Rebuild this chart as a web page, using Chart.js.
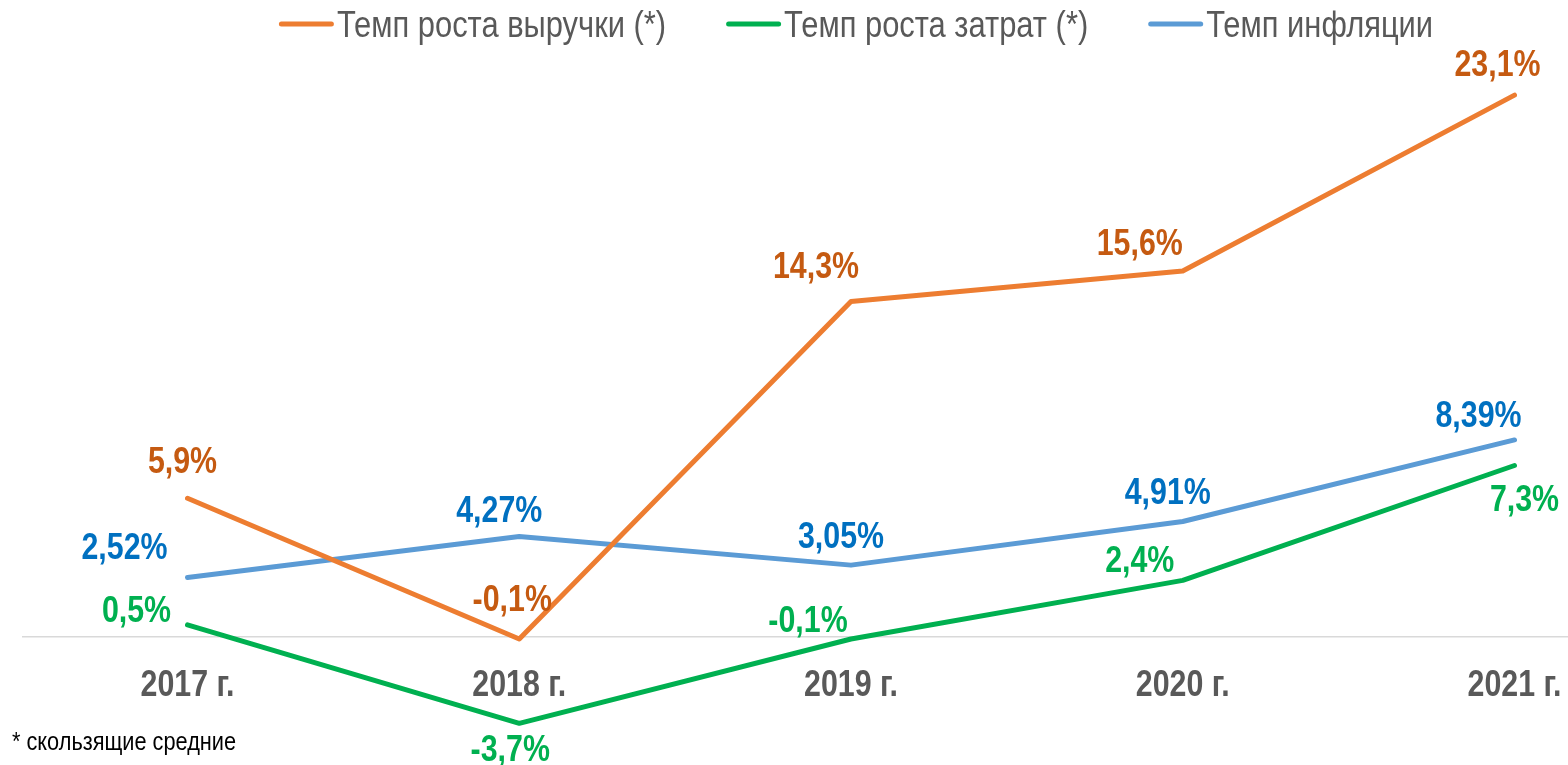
<!DOCTYPE html>
<html>
<head>
<meta charset="utf-8">
<script src="https://cdn.jsdelivr.net/npm/chart.js@4.4.1/dist/chart.umd.min.js"></script>
<style>
  html, body { margin: 0; padding: 0; background: #fff; }
  #wrap { width: 1568px; height: 765px; position: relative; }
</style>
</head>
<body>
<div id="wrap"><canvas id="c" width="1568" height="765"></canvas></div>
<script>
/* ============================================================
   DATA
============================================================ */
const years     = ['2017 г.', '2018 г.', '2019 г.', '2020 г.', '2021 г.'];
const revenue   = [5.9, -0.1, 14.3, 15.6, 23.1];
const costs     = [0.5, -3.7, -0.1, 2.4, 7.3];
const inflation = [2.52, 4.27, 3.05, 4.91, 8.39];

const revenueLabels   = ['5,9%', '-0,1%', '14,3%', '15,6%', '23,1%'];
const costsLabels     = ['0,5%', '-3,7%', '-0,1%', '2,4%', '7,3%'];
const inflationLabels = ['2,52%', '4,27%', '3,05%', '4,91%', '8,39%'];

const seriesNames = ['Темп роста выручки (*)', 'Темп роста затрат (*)', 'Темп инфляции'];
const footnote = '* скользящие средние';

/* ============================================================
   STYLE
============================================================ */
const FONT = "'Liberation Sans', Arial, sans-serif";
const NARROW = 0.82;   // squeeze Liberation Sans to look like Arial Narrow
const ORANGE = '#ED7D31', GREEN = '#00B050', BLUE = '#5B9BD5';
const ORANGE_TXT = '#C55A11', GREEN_TXT = '#00B050', BLUE_TXT = '#0070C0';

/* label centre offsets (px) from each point, per series */
const labelOffsets = [
  [[-5, -39], [-7, -41], [-35, -37], [-43, -29], [-17, -32]],
  [[-51, -16], [-9, 24], [-43, -20], [-43, -22], [10, 32]],
  [[-63, -32], [-20, -28], [-10, -30], [-15, -31], [-36, -26]]
];

/* draw text squeezed horizontally; (x, y) = centre of the digits */
function narrowText(ctx, text, x, y, size, align, squeeze) {
  ctx.save();
  ctx.translate(x, y + size * 0.358);
  ctx.scale(squeeze || NARROW, 1);
  ctx.textAlign = align || 'center';
  ctx.textBaseline = 'alphabetic';
  ctx.fillText(text, 0, 0);
  ctx.restore();
}

/* ============================================================
   PLUGINS
============================================================ */
const zeroLine = {
  id: 'zeroLine',
  beforeDatasetsDraw(chart) {
    const ctx = chart.ctx;
    const y = chart.scales.y.getPixelForValue(0);
    ctx.save();
    ctx.strokeStyle = '#D9D9D9';
    ctx.lineWidth = 1.5;
    ctx.beginPath();
    ctx.moveTo(22, y);
    ctx.lineTo(chart.width, y);
    ctx.stroke();
    ctx.restore();
  }
};

const categoryLabels = {
  id: 'categoryLabels',
  afterDraw(chart) {
    const ctx = chart.ctx;
    const xs = chart.scales.x;
    const y = chart.scales.y.getPixelForValue(0) + 46;
    ctx.save();
    ctx.font = 'bold 37px ' + FONT;
    ctx.fillStyle = '#595959';
    years.forEach((yr, i) => narrowText(ctx, yr, xs.getPixelForValue(i), y, 37));
    ctx.restore();
  }
};

const pointLabels = {
  id: 'pointLabels',
  afterDatasetsDraw(chart) {
    const ctx = chart.ctx;
    ctx.save();
    ctx.font = 'bold 37px ' + FONT;
    chart.data.datasets.forEach((ds, i) => {
      const meta = chart.getDatasetMeta(i);
      ctx.fillStyle = ds.labelColor;
      meta.data.forEach((pt, j) => {
        const [dx, dy] = labelOffsets[i][j];
        narrowText(ctx, ds.valueLabels[j], pt.x + dx, pt.y + dy, 37);
      });
    });
    ctx.restore();
  }
};

const legendAndNote = {
  id: 'legendAndNote',
  afterDraw(chart) {
    const ctx = chart.ctx;
    ctx.save();
    ctx.font = '37px ' + FONT;
    const sq = 0.835;
    const lineW = 55, gapText = 3, gapItem = 60;
    const widths = seriesNames.map(n => ctx.measureText(n).width * sq);
    const total = widths.reduce((a, w) => a + lineW + gapText + w, 0) + gapItem * (seriesNames.length - 1);
    let x = 856 - total / 2;
    const y = 24;
    chart.data.datasets.forEach((ds, i) => {
      ctx.strokeStyle = ds.borderColor;
      ctx.lineWidth = 5;
      ctx.lineCap = 'round';
      ctx.beginPath();
      ctx.moveTo(x + 2.5, y);
      ctx.lineTo(x + lineW - 2.5, y);
      ctx.stroke();
      ctx.fillStyle = '#595959';
      narrowText(ctx, seriesNames[i], x + lineW + gapText, y, 37, 'left', sq);
      x += lineW + gapText + widths[i] + gapItem;
    });
    ctx.font = '26.5px ' + FONT;
    ctx.fillStyle = '#000';
    narrowText(ctx, footnote, 12, 741, 26.5, 'left');
    ctx.restore();
  }
};

/* ============================================================
   CHART
============================================================ */
const mkSet = (label, data, color, txt, labels) => ({
  label, data,
  borderColor: color,
  backgroundColor: color,
  borderWidth: 5,
  borderCapStyle: 'round',
  borderJoinStyle: 'round',
  pointRadius: 0,
  tension: 0,
  labelColor: txt,
  valueLabels: labels
});

new Chart(document.getElementById('c'), {
  type: 'line',
  data: {
    labels: years,
    datasets: [
      mkSet(seriesNames[0], revenue, ORANGE, ORANGE_TXT, revenueLabels),
      mkSet(seriesNames[1], costs, GREEN, GREEN_TXT, costsLabels),
      mkSet(seriesNames[2], inflation, BLUE, BLUE_TXT, inflationLabels)
    ]
  },
  options: {
    responsive: false,
    animation: false,
    layout: { padding: { left: 187.5, right: 53.5, top: 74, bottom: 34.6 } },
    plugins: { legend: { display: false }, tooltip: { enabled: false } },
    scales: {
      x: { display: false, offset: false },
      y: { display: false, min: -4, max: 24 }
    }
  },
  plugins: [zeroLine, pointLabels, categoryLabels, legendAndNote]
});
</script>
</body>
</html>
